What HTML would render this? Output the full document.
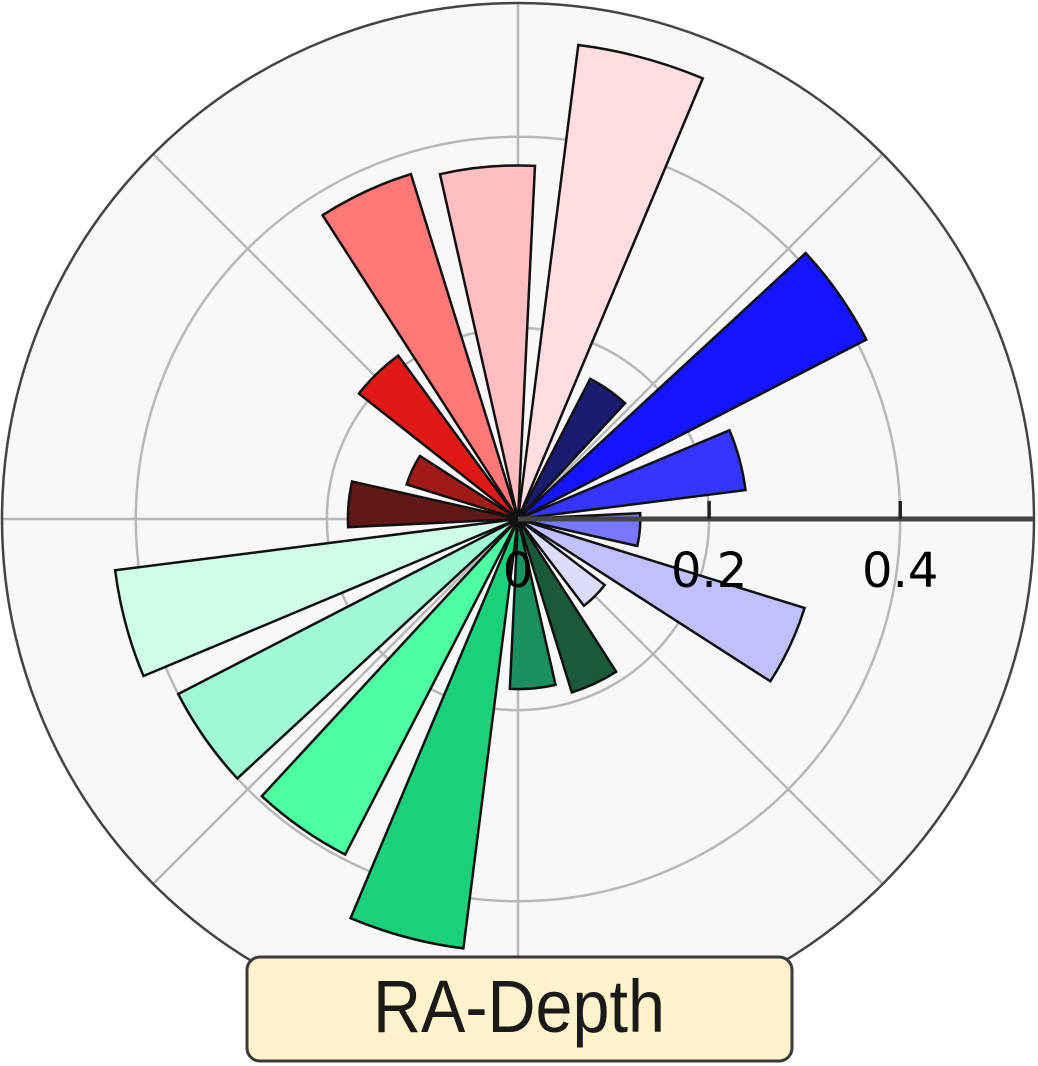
<!DOCTYPE html>
<html><head><meta charset="utf-8"><style>html,body{margin:0;padding:0;background:#fff}svg{display:block}</style></head>
<body>
<svg id="chart" width="1038" height="1066" viewBox="0 0 1038 1066" xmlns="http://www.w3.org/2000/svg">
<g id="bg"></g>
<g id="bars"></g>
<g id="axis"></g>
<g>
<rect x="247" y="957" width="545" height="104" rx="13" fill="#fff2cc" stroke="#3a3a3a" stroke-width="3"/>
<text x="519" y="1032" text-anchor="middle" font-family="'Liberation Sans', sans-serif" font-size="74" fill="#1a1a1a" textLength="292" lengthAdjust="spacingAndGlyphs">RA-Depth</text>
</g>
</svg>
<script>
const centerAnglesDeg = [-5, 15, 35, 55, 75, 95, 115, 134, 155, 175, 195, 215, 235, 255, 275, 295, 315, 335];
const values = [0.128, 0.24, 0.41, 0.165, 0.50, 0.37, 0.378, 0.212, 0.122, 0.178, 0.425, 0.40, 0.395, 0.453, 0.178, 0.19, 0.114, 0.314];
const barColors = ['#7777ff','#3535ff','#1414ff','#1a1a70','#ffdde0','#ffbfc2','#ff7878','#e01818','#a01a1a','#601818','#d0fde8','#a0fad6','#4dffa0','#1ad07a','#1a9060','#1a5a3a','#dcdcff','#c0c0ff'];
const radialTicks = [0, 0.2, 0.4];
const tickLabels = ['0', '0.2', '0.4'];
const gridCircles = [0.2, 0.4];
const spokeAnglesDeg = [0, 45, 90, 135, 180, 225, 270, 315];
const rMax = 0.54;

const NS = 'http://www.w3.org/2000/svg';
const cx = 518, cy = 519, R = 516;
const barWidthDeg = 15.5;
function rScale(v){ return v / rMax * R; }
function pt(deg, r){ const a = deg*Math.PI/180; return [cx + r*Math.cos(a), cy - r*Math.sin(a)]; }
function mk(tag, attrs, parent){ const e=document.createElementNS(NS,tag); for(const k in attrs) e.setAttribute(k, attrs[k]); parent.appendChild(e); return e; }

const bg = document.getElementById('bg');
const outer = mk('circle', {cx:cx, cy:cy, r:R, fill:'#f8f8f8', stroke:'none'}, bg);


gridCircles.forEach(g => {
  const c = mk('circle', {cx:cx, cy:cy, r:rScale(g), fill:'none', stroke:'#b8b8b8', 'stroke-width':2.5}, bg);
  
  
});
spokeAnglesDeg.forEach(d => {
  const p = pt(d, R);
  const l = mk('line', {x1:cx, y1:cy, x2:p[0], y2:p[1], stroke:'#b8b8b8', 'stroke-width':2.5}, bg);
  
  
});

const bars = document.getElementById('bars');
values.forEach((v, i) => {
  const a0 = centerAnglesDeg[i] - barWidthDeg/2, a1 = centerAnglesDeg[i] + barWidthDeg/2;
  const r = rScale(v);
  const p0 = pt(a0, r), p1 = pt(a1, r);
  const d = `M${cx},${cy} L${p0[0]},${p0[1]} A${r},${r} 0 0 0 ${p1[0]},${p1[1]} Z`;
  const p = mk('path', {d:d, fill:barColors[i], stroke:'#111', 'stroke-width':2.5, 'stroke-linejoin':'miter'}, bars);
  
  
});

const axis = document.getElementById('axis');
const ring = mk('circle', {cx:cx, cy:cy, r:R, fill:'none', stroke:'#444', 'stroke-width':2.5}, axis);


const al = mk('line', {x1:cx, y1:cy, x2:cx+R, y2:cy, stroke:'#444', 'stroke-width':5}, axis);


radialTicks.forEach((t, i) => {
  const x = cx + rScale(t);
  if (t > 0) {
    const tk = mk('line', {x1:x, y1:cy-18, x2:x, y2:cy, stroke:'#222', 'stroke-width':3.5}, axis);
    
    
  }
  const tx = mk('text', {x:x, y:cy+68, 'text-anchor':'middle', 'font-family':"'DejaVu Sans', 'Liberation Sans', sans-serif", 'font-size':48, fill:'#000'}, axis);
  tx.textContent = tickLabels[i];
  
  
});
</script>
</body></html>
